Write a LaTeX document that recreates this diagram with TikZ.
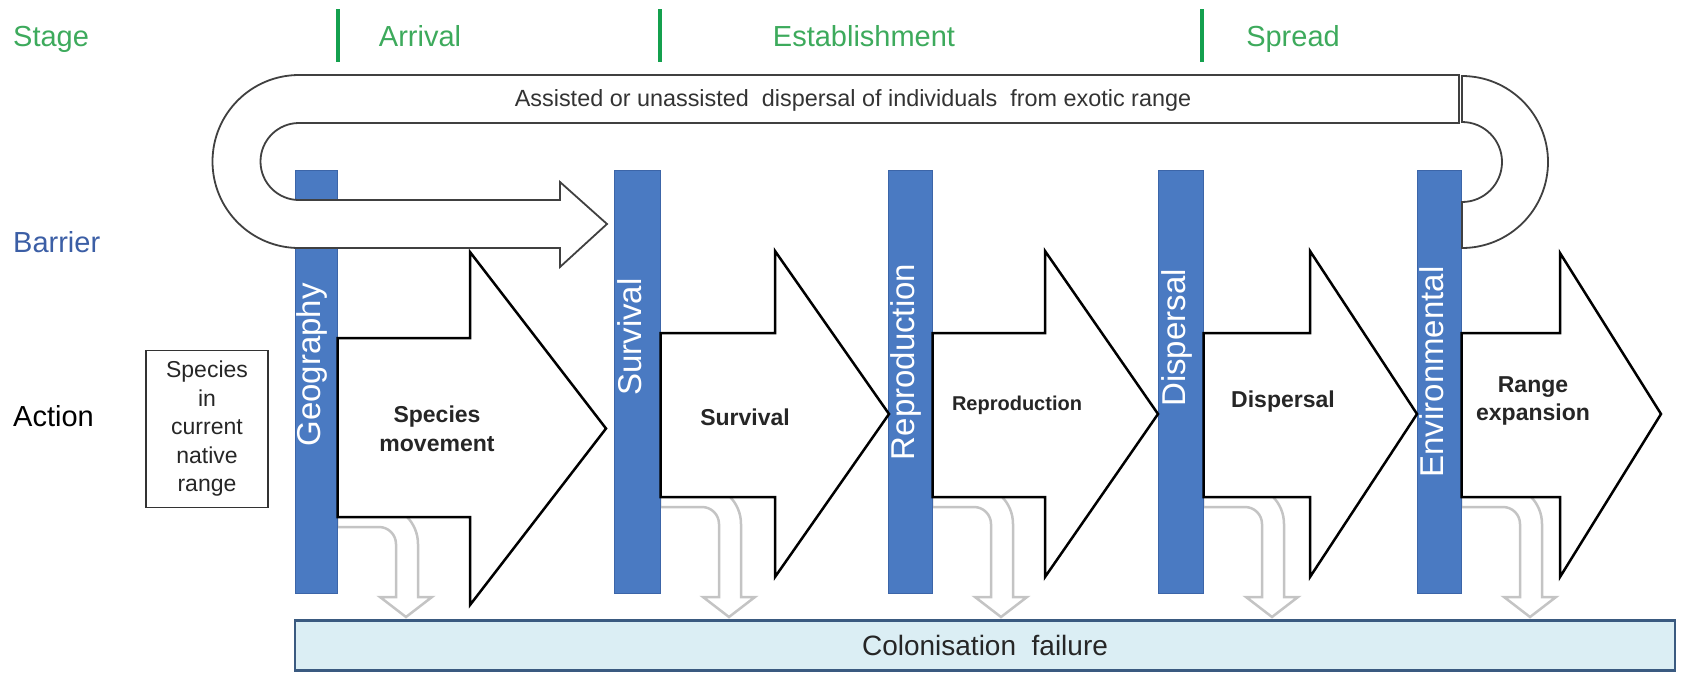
\documentclass[tikz,border=0pt]{standalone}
\usepackage{fontspec}
\setmainfont{Liberation Sans}
\setsansfont{Liberation Sans}
\definecolor{stagegreen}{HTML}{3DAA5C}
\definecolor{stageline}{HTML}{14A04E}
\definecolor{barrierblue}{HTML}{3B5EA5}
\definecolor{barfill}{HTML}{4A7AC2}
\definecolor{baredge}{HTML}{3C65A8}
\definecolor{failfill}{HTML}{DBEEF4}
\definecolor{failedge}{HTML}{3A5A80}
\definecolor{grayarrow}{HTML}{C4C4C4}
\definecolor{labeltext}{HTML}{262626}
\begin{document}
\begin{tikzpicture}[x=1pt,y=-1pt,
  rowlabel/.style={anchor=west, inner sep=0pt, text height=21pt, text depth=6pt,
    font=\fontsize{29}{34}\selectfont},
  stagetxt/.style={inner sep=0pt, text=stagegreen, text height=21pt, text depth=6pt,
    font=\fontsize{29}{34}\selectfont},
  stagebar/.style={draw=stageline, line width=3.5pt},
  barrierbar/.style={draw=baredge, fill=barfill, line width=1pt},
  barlabel/.style={rotate=90, inner sep=0pt, text=white, text height=11pt, text depth=2pt,
    font=\fontsize{33}{38}\selectfont},
  blockarrow/.style={draw=black, fill=white, line width=2.5pt, line join=miter},
  actionlabel/.style={align=center, inner sep=0pt, text=labeltext,
    font=\fontsize{23}{28.5}\selectfont\bfseries},
  failarrow/.style={draw=grayarrow, fill=white, line width=2.5pt},
  bandshape/.style={draw=black!75, fill=white, line width=1.8pt},
]
\useasboundingbox (0,0) rectangle (1681,673);

% ---- row headings ----
\node[rowlabel, text=stagegreen] (stage) at (13,39) {Stage};
\node[rowlabel, text=barrierblue] (barrier) at (13,245) {Barrier};
\node[rowlabel, text=black] (action) at (13,419) {Action};

% ---- stage dividers and names ----
\draw[stagebar] (338,9) -- (338,62);
\draw[stagebar] (660,9) -- (660,62);
\draw[stagebar] (1202,9) -- (1202,62);
\node[stagetxt] (arrival) at (420,39) {Arrival};
\node[stagetxt] (establishment) at (864,39) {Establishment};
\node[stagetxt] (spread) at (1293,39) {Spread};

% ---- grey failure arrows (bar edge b, lower edge of horizontal band yb) ----
\foreach \b/\yb in {337/527, 660/507, 932/507, 1203/507, 1461/507}{
  \draw[failarrow] (\b,\yb-22) -- (\b+42,\yb-22)
    arc[start angle=270, end angle=360, radius=39]
    -- (\b+81,597) -- (\b+95,597) -- (\b+69,617) -- (\b+43,597) -- (\b+59,597)
    -- (\b+59,\yb+17) arc[start angle=360, end angle=270, radius=17]
    -- (\b,\yb) -- cycle;
}

% ---- barriers ----
\node[barrierbar, minimum width=42, minimum height=423] (geo) at (316,381.5) {};
\node[barrierbar, minimum width=46, minimum height=423] (surv) at (637,381.5) {};
\node[barrierbar, minimum width=44, minimum height=423] (repro) at (910,381.5) {};
\node[barrierbar, minimum width=45, minimum height=423] (disp) at (1180.5,381.5) {};
\node[barrierbar, minimum width=44, minimum height=423] (env) at (1439,381.5) {};

% ---- action arrows ----
\draw[blockarrow] (geo.east |- 0,338) -- (470,338) -- (470,252) -- (606,428.5)
  -- (470,605) -- (470,517) -- (geo.east |- 0,517) -- cycle;
\draw[blockarrow] (surv.east |- 0,333) -- (775,333) -- (775,251) -- (889,414)
  -- (775,577) -- (775,497) -- (surv.east |- 0,497) -- cycle;
\draw[blockarrow] (repro.east |- 0,333) -- (1045,333) -- (1045,251) -- (1158,414)
  -- (1045,577) -- (1045,497) -- (repro.east |- 0,497) -- cycle;
\draw[blockarrow] (disp.east |- 0,333) -- (1310,333) -- (1310,251) -- (1417,414)
  -- (1310,577) -- (1310,497) -- (disp.east |- 0,497) -- cycle;
\draw[blockarrow] (env.east |- 0,333) -- (1560,333) -- (1560,253) -- (1661,414)
  -- (1560,577) -- (1560,497) -- (env.east |- 0,497) -- cycle;

% ---- dispersal loop from the exotic range ----
\draw[bandshape] (1459,75) -- (299,75)
  arc[start angle=270, end angle=90, radius=86.5]
  -- (560,248) -- (560,267) -- (607,224) -- (560,182) -- (560,200) -- (299,200)
  arc[start angle=90, end angle=270, radius=38.5]
  -- (1459,123) -- cycle;
\draw[bandshape] (1462,76) arc[start angle=270, end angle=450, radius=86]
  -- (1462,202) arc[start angle=90, end angle=-90, radius=40] -- cycle;
\node[inner sep=0pt, text=black!80, font=\fontsize{23.4}{28}\selectfont] (loop) at (853,100)
  {Assisted or unassisted\ \ dispersal of individuals\ \ from exotic range};

% ---- barrier labels ----
\node[barlabel] (geolbl) at (316,365) {Geography};
\node[barlabel] (survlbl) at (637,337) {Survival};
\node[barlabel] (reprolbl) at (910,362) {Reproduction};
\node[barlabel] (displbl) at (1180.5,338) {Dispersal};
\node[barlabel] (envlbl) at (1439,372) {Environmental};

% ---- action labels ----
\node[actionlabel] (movelbl) at (437,429) {Species\\movement};
\node[actionlabel] (survact) at (745,417) {Survival};
\node[actionlabel, font=\fontsize{20}{24}\selectfont\bfseries] (reproact) at (1017,405) {Reproduction};
\node[actionlabel] (dispact) at (1283,402) {Dispersal};
\node[actionlabel] (rangeact) at (1533,401) {Range\\expansion};

% ---- source population ----
\node[draw=black!80, line width=1.5pt, minimum width=122, minimum height=157, inner sep=0pt,
  align=center, text=black!85, font=\fontsize{23}{28.5}\selectfont] (native) at (207,429)
  {Species\\in\\current\\native\\range};

% ---- outcome ----
\node[draw=failedge, fill=failfill, line width=2.5pt, minimum width=1380, minimum height=50,
  inner sep=0pt, text=black!85, font=\fontsize{28}{32}\selectfont] (fail) at (985,645.5)
  {Colonisation\ \ failure};
\end{tikzpicture}
\end{document}
